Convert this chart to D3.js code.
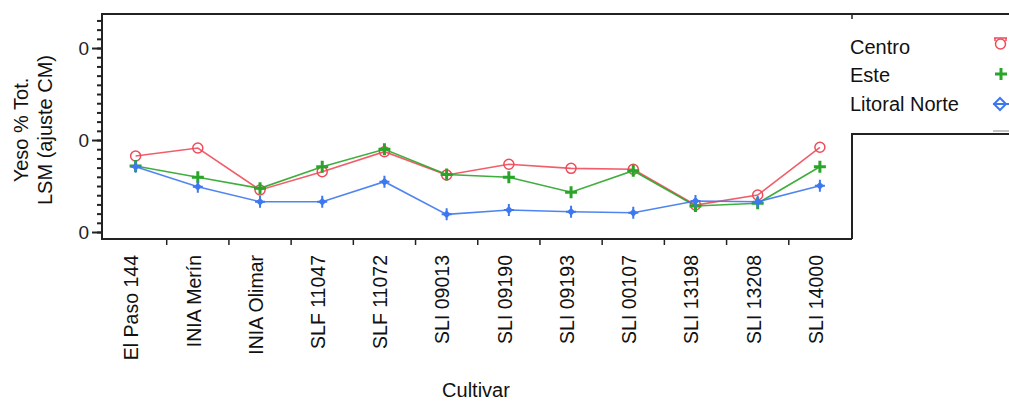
<!DOCTYPE html>
<html>
<head>
<meta charset="utf-8">
<script src="https://cdn.jsdelivr.net/npm/d3@7"></script>
<style>
  body { margin: 0; background: #fff; }
  svg { display: block; font-family: "Liberation Sans", Arial, sans-serif; }
</style>
</head>
<body>
<div id="chart"></div>
<script>
// cultivars on the x axis
var cultivars = ["El Paso 144", "INIA Merín", "INIA Olimar", "SLF 11047", "SLF 11072", "SLI 09013",
                 "SLI 09190", "SLI 09193", "SLI 00107", "SLI 13198", "SLI 13208", "SLI 14000"];
// LSM values per zone
var centro  = [8.26, 9.13, 4.57, 6.55, 8.73, 6.20, 7.36, 6.92, 6.82, 2.93, 4.02, 9.21];
var este    = [7.17, 5.95, 4.75, 7.10, 8.99, 6.25, 5.95, 4.32, 6.66, 2.83, 3.12, 7.10];
var litoral = [7.10, 4.92, 3.29, 3.29, 5.47, 1.92, 2.39, 2.21, 2.10, 3.37, 3.29, 5.03];
var seriesNames = ["Centro", "Este", "Litoral Norte"];
var yMajorTicks = [0, 10, 20];

var W = 1009, H = 401;
var plotL = 102, plotR = 852, plotT = 14, plotB = 239;

var svg = d3.select("#chart").append("svg")
    .attr("width", W).attr("height", H);

var x = d3.scaleBand()
    .domain(cultivars)
    .range([104.5, 851]);

var y = d3.scaleLinear()
    .domain([-0.76, 23.7])
    .range([plotB, plotT]);

var colors = { "Centro": "#f04b5a", "Este": "#2aa52a", "Litoral Norte": "#3d78f0" };
var series = [
    { name: "Centro", values: centro },
    { name: "Este", values: este },
    { name: "Litoral Norte", values: litoral }
];

// frame lines
var ink = "#222";
svg.append("line").attr("x1", plotL).attr("x2", W).attr("y1", plotT).attr("y2", plotT)
    .attr("stroke", ink).attr("stroke-width", 2);
svg.append("line").attr("x1", plotR).attr("x2", plotR).attr("y1", plotT).attr("y2", plotT + 5)
    .attr("stroke", ink).attr("stroke-width", 1.5);
svg.append("path")
    .attr("d", "M" + plotR + "," + plotB + "V134H" + W)
    .attr("fill", "none").attr("stroke", ink).attr("stroke-width", 2);
svg.append("line").attr("x1", 993).attr("x2", W).attr("y1", 131).attr("y2", 131)
    .attr("stroke", "#888").attr("stroke-width", 1);

// y axis, minor ticks then major ticks (labels cut on the left like the original)
svg.append("clipPath").attr("id", "ylab")
    .append("rect").attr("x", 78 - plotL).attr("y", 0).attr("width", plotL - 78 + 2).attr("height", H);

var yMinor = svg.append("g")
    .attr("transform", "translate(" + plotL + ",0)")
    .call(d3.axisLeft(y).tickValues(d3.range(0, 24)).tickSize(5).tickFormat(""));
var yMajor = svg.append("g")
    .attr("transform", "translate(" + plotL + ",0)")
    .attr("clip-path", "url(#ylab)")
    .call(d3.axisLeft(y).tickValues(yMajorTicks).tickSize(10).tickPadding(3));
[yMinor, yMajor].forEach(function (g) {
    g.select(".domain").remove();
    g.selectAll("line").attr("stroke", ink).attr("stroke-width", 2);
});
yMajor.selectAll("text").attr("font-size", 19).attr("fill", "#222")
    .attr("font-family", "Liberation Sans, Arial, sans-serif");

svg.append("line").attr("x1", plotL).attr("x2", plotL).attr("y1", plotT - 1).attr("y2", plotB + 1)
    .attr("stroke", ink).attr("stroke-width", 2);
svg.append("line").attr("x1", plotL).attr("x2", plotR).attr("y1", plotB).attr("y2", plotB)
    .attr("stroke", ink).attr("stroke-width", 2);

// x ticks at band boundaries
svg.selectAll(".xtick")
    .data(cultivars.slice(1))
    .enter().append("line")
    .attr("x1", function (d) { return x(d); })
    .attr("x2", function (d) { return x(d); })
    .attr("y1", plotB).attr("y2", plotB + 6)
    .attr("stroke", ink).attr("stroke-width", 1.5);

svg.selectAll(".xlab")
    .data(cultivars)
    .enter().append("text")
    .attr("transform", function (d) {
        return "translate(" + (x(d) + x.bandwidth() / 2 - 4) + ",255) rotate(-90)";
    })
    .attr("dy", "0.35em")
    .attr("text-anchor", "end")
    .attr("font-size", 19.5)
    .attr("fill", "#111")
    .text(function (d) { return d; });

// axis titles
svg.append("text").attr("transform", "translate(28,130) rotate(-90)")
    .attr("text-anchor", "middle").attr("font-size", 20).attr("fill", "#111")
    .text("Yeso % Tot.");
svg.append("text").attr("transform", "translate(52,130) rotate(-90)")
    .attr("text-anchor", "middle").attr("font-size", 20).attr("fill", "#111")
    .text("LSM (ajuste CM)");
svg.append("text").attr("x", 476).attr("y", 397)
    .attr("text-anchor", "middle").attr("font-size", 20).attr("fill", "#111")
    .text("Cultivar");

// marker drawing
function drawMarker(g, name, cx, cy) {
    var c = colors[name];
    if (name === "Centro") {
        g.append("circle").attr("cx", cx).attr("cy", cy).attr("r", 5)
            .attr("fill", "none").attr("stroke", c).attr("stroke-width", 1.5);
    } else if (name === "Este") {
        g.append("path")
            .attr("d", "M" + (cx - 6) + "," + cy + "h12M" + cx + "," + (cy - 6) + "v12")
            .attr("stroke", c).attr("stroke-width", 3);
    } else {
        g.append("path")
            .attr("d", "M" + cx + "," + (cy - 4) + "l4,4l-4,4l-4,-4z")
            .attr("fill", c);
        g.append("path")
            .attr("d", "M" + (cx - 5) + "," + cy + "h10M" + cx + "," + (cy - 6) + "v12")
            .attr("stroke", c).attr("stroke-width", 2);
    }
}

var line = d3.line()
    .x(function (d, i) { return x(cultivars[i]) + x.bandwidth() / 2; })
    .y(function (d) { return y(d); });

series.forEach(function (s) {
    svg.append("path")
        .datum(s.values)
        .attr("d", line)
        .attr("fill", "none")
        .attr("stroke", colors[s.name])
        .attr("stroke-width", 1.6)
        .attr("stroke-opacity", 0.9);
    var g = svg.append("g");
    s.values.forEach(function (v, i) {
        drawMarker(g, s.name, x(cultivars[i]) + x.bandwidth() / 2, y(v));
    });
});

// legend
var legY = [47, 75, 104];
seriesNames.forEach(function (n, i) {
    svg.append("text").attr("x", 850).attr("y", legY[i]).attr("dy", "0.35em")
        .attr("font-size", 20).attr("fill", "#111").text(n);
    var g = svg.append("g");
    if (n === "Centro") {
        g.append("path").attr("d", "M994,38H1007M995,38v3M1006,38v3")
            .attr("stroke", colors[n]).attr("stroke-width", 1.5).attr("fill", "none");
        drawMarker(g, n, 1000.5, 44);
    } else if (n === "Este") {
        drawMarker(g, n, 1001, legY[i] - 1);
    } else {
        g.append("path").attr("d", "M1000,98l6,6l-6,6l-6,-6z")
            .attr("fill", "none").attr("stroke", colors[n]).attr("stroke-width", 2);
        g.append("line").attr("x1", 993).attr("x2", W).attr("y1", 104).attr("y2", 104)
            .attr("stroke", colors[n]).attr("stroke-width", 2);
    }
});
</script>
</body>
</html>
